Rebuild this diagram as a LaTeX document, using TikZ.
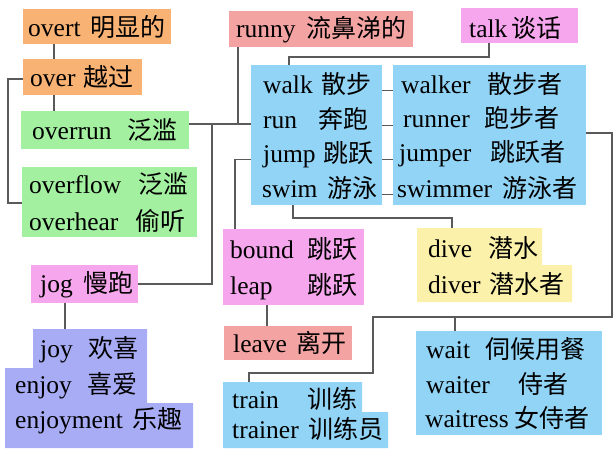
\documentclass[tikz,border=0pt]{standalone}
\usepackage{fontspec}
\setmainfont{Liberation Serif}
\newfontfamily\cjkf{Noto Sans CJK SC}
\newcommand\zc[1]{{\cjkf\fontsize{25}{30}\selectfont #1}}
\newcommand\rowtx[3]{\makebox[#1pt][l]{#2}\zc{#3}}
\definecolor{cOr}{RGB}{248,178,116}
\definecolor{cGr}{RGB}{163,240,160}
\definecolor{cSa}{RGB}{244,163,163}
\definecolor{cPk}{RGB}{245,166,236}
\definecolor{cBl}{RGB}{146,212,246}
\definecolor{cYe}{RGB}{251,241,170}
\definecolor{cLv}{RGB}{168,172,245}
\definecolor{lineg}{RGB}{90,90,90}
\begin{document}
\begin{tikzpicture}[x=1pt,y=-1pt,
  box/.style={anchor=north west, inner sep=0pt, outer sep=0pt, draw=none},
  tx/.style={anchor=base west, inner sep=0pt, font=\fontsize{25.5}{30}\selectfont},
  conn/.style={draw=lineg, line width=1.5pt}]
\useasboundingbox (0,0) rectangle (615,448);
\fill[white] (0,0) rectangle (615,448);

% stepped shapes
\fill[cYe] (417,228) -- (542,228) -- (542,265) -- (572,265) -- (572,302) -- (417,302) -- cycle;
\fill[cLv] (33,329) -- (147,329) -- (147,403) -- (193,403) -- (193,448) -- (5,448) -- (5,368) -- (33,368) -- cycle;
\fill[cBl] (223,382) -- (362,382) -- (362,412) -- (388,412) -- (388,448) -- (223,448) -- cycle;

% boxes
\node[box, fill=cOr, minimum width=148pt, minimum height=35pt] (overt) at (23,9) {};
\node[box, fill=cOr, minimum width=119pt, minimum height=36pt] (over) at (23,59) {};
\node[box, fill=cGr, minimum width=168pt, minimum height=38pt] (overrun) at (21,111) {};
\node[box, fill=cGr, minimum width=175pt, minimum height=70pt] (ovf) at (22,167) {};
\node[box, fill=cSa, minimum width=184pt, minimum height=36pt] (runny) at (229,11) {};
\node[box, fill=cPk, minimum width=117pt, minimum height=35pt] (talk) at (461,8) {};
\node[box, fill=cBl, minimum width=131pt, minimum height=140pt] (wb) at (251,65) {};
\node[box, fill=cBl, minimum width=193pt, minimum height=140pt] (rb) at (393,65) {};
\node[box, fill=cPk, minimum width=141pt, minimum height=76pt] (bl) at (223,229) {};
\node[box, fill=cSa, minimum width=128pt, minimum height=34pt] (lv) at (224,326) {};
\node[box, minimum width=155pt, minimum height=74pt] (dv) at (417,228) {};
\node[box, fill=cPk, minimum width=107pt, minimum height=38pt] (jog) at (31,265) {};
\node[box, minimum width=188pt, minimum height=119pt] (joy) at (5,329) {};
\node[box, minimum width=165pt, minimum height=66pt] (tr) at (223,382) {};
\node[box, fill=cBl, minimum width=186pt, minimum height=104pt] (wt) at (416,331) {};

% texts
\node[tx] (tovert) at (28,36) {\rowtx{62}{overt}{明显的}};
\node[tx] (tover) at (30,86) {\rowtx{53}{over}{越过}};
\node[tx] (toverrun) at (32,139) {\rowtx{95}{overrun}{泛滥}};
\node[tx] (toverflow) at (29,193) {\rowtx{109}{overflow}{泛滥}};
\node[tx] (toverhear) at (29,230) {\rowtx{106}{overhear}{偷听}};
\node[tx] (trunny) at (236,37) {\rowtx{70}{runny}{流鼻涕的}};
\node[tx] (ttalk) at (469,37) {\rowtx{42}{talk}{谈话}};
\node[tx] (rwalk) at (263,93) {\rowtx{58}{walk}{散步}};
\node[tx] (rrun) at (263,128) {\rowtx{55}{run}{奔跑}};
\node[tx] (rjump) at (263,162) {\rowtx{60}{jump}{跳跃}};
\node[tx] (rswim) at (262,197) {\rowtx{65}{swim}{游泳}};
\node[tx] (twalker) at (401,93) {\rowtx{86}{walker}{散步者}};
\node[tx] (trunner) at (403,127) {\rowtx{81}{runner}{跑步者}};
\node[tx] (tjumper) at (399,161) {\rowtx{91}{jumper}{跳跃者}};
\node[tx] (tswimmer) at (397,197) {\rowtx{105}{swimmer}{游泳者}};
\node[tx] (tbound) at (230,258) {\rowtx{77}{bound}{跳跃}};
\node[tx] (tleap) at (230,294) {\rowtx{77}{leap}{跳跃}};
\node[tx] (tleave) at (233,352) {\rowtx{63}{leave}{离开}};
\node[tx] (tdive) at (428,257) {\rowtx{60}{dive}{潜水}};
\node[tx] (tdiver) at (428,293) {\rowtx{61}{diver}{潜水者}};
\node[tx] (tjog) at (40,292) {\rowtx{43}{jog}{慢跑}};
\node[tx] (tjoy) at (40,357) {\rowtx{48}{joy}{欢喜}};
\node[tx] (tenjoy) at (15,393) {\rowtx{72}{enjoy}{喜爱}};
\node[tx] (tenjoyment) at (15,428) {\rowtx{117}{enjoyment}{乐趣}};
\node[tx] (ttrain) at (232,408) {\rowtx{75}{train}{训练}};
\node[tx] (ttrainer) at (232,438) {\rowtx{76}{trainer}{训练员}};
\node[tx] (twait) at (426,358) {\rowtx{59}{wait}{伺候用餐}};
\node[tx] (twaiter) at (426,393) {\rowtx{92}{waiter}{侍者}};
\node[tx] (twaitress) at (425,427) {\rowtx{89}{waitress}{女侍者}};

% connectors
\coordinate (j1) at (212,124);
\coordinate (k1) at (612,317);
\coordinate (k2) at (373,373);
\draw[conn] ([xshift=31pt]overt.south west) -- ([xshift=31pt]over.north west);
\draw[conn] ([xshift=31pt]over.south west) -- ([xshift=31pt]over.south west |- overrun.north);
\draw[conn] ([yshift=-2pt]over.west) -- ++(-15,0) |- ([yshift=-1pt]ovf.west);
\draw[conn] (overrun.east |- j1) -- (wb.west |- j1);
\draw[conn] ([xshift=9pt]runny.south west) -- ([xshift=9pt]runny.south west |- j1);
\draw[conn] (j1) |- (jog.east);
\draw[conn] ([xshift=28pt]talk.south west) -- ++(0,14) -| ([xshift=38pt]wb.north west);
\foreach \r in {rwalk,rrun,rjump,rswim}
  \draw[conn] (wb.east |- \r.mid) -- (rb.west |- \r.mid);
\draw[conn] (wb.west |- rjump.mid) -- ++(-16,0) -| ([xshift=12pt]bl.north west);
\draw[conn] ([xshift=42pt]wb.south west) -- ++(0,13) -| ([xshift=35pt]dv.north west);
\draw[conn] ([yshift=2pt]rb.east) -| (k1) -| (k2) -| ([xshift=26pt]tr.north west);
\draw[conn] ([xshift=39pt]wt.north west) -- ([xshift=39pt]wt.north west |- k1);
\draw[conn] ([xshift=44pt]bl.south west) -- ([xshift=44pt]bl.south west |- lv.north);
\draw[conn] ([xshift=34pt]jog.south west) -- ([xshift=34pt]jog.south west |- joy.north);
\end{tikzpicture}
\end{document}
